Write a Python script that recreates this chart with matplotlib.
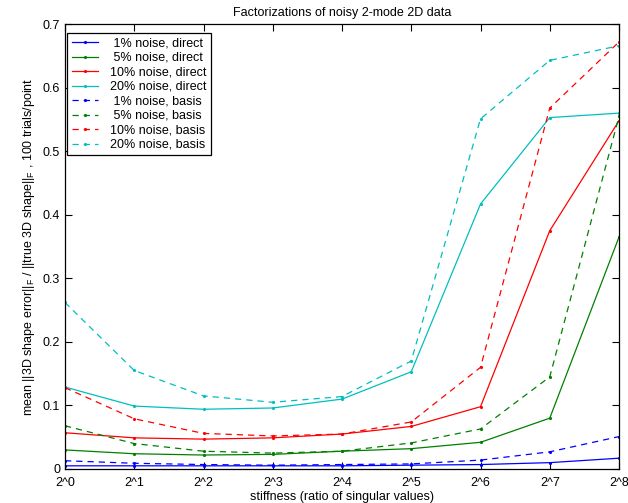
import numpy as np
import matplotlib.pyplot as plt

plt.rcParams['font.family'] = ['Liberation Sans', 'DejaVu Sans']
plt.rcParams['mathtext.fontset'] = 'custom'
plt.rcParams['mathtext.rm'] = 'Liberation Sans'

# stiffness exponents 2^0 .. 2^8
exps = np.arange(9)
tick_labels = [f'2^{k}' for k in exps]

# direct factorization
direct_1 = [0.005, 0.005, 0.005, 0.005, 0.005, 0.006, 0.007, 0.010, 0.017]
direct_5 = [0.030, 0.024, 0.022, 0.023, 0.028, 0.032, 0.042, 0.080, 0.365]
direct_10 = [0.057, 0.049, 0.047, 0.049, 0.055, 0.067, 0.098, 0.375, 0.548]
direct_20 = [0.129, 0.099, 0.094, 0.096, 0.110, 0.153, 0.417, 0.553, 0.560]

# basis factorization
basis_1 = [0.013, 0.009, 0.007, 0.006, 0.007, 0.008, 0.014, 0.027, 0.051]
basis_5 = [0.068, 0.040, 0.028, 0.025, 0.028, 0.041, 0.063, 0.145, 0.555]
basis_10 = [0.128, 0.079, 0.056, 0.052, 0.055, 0.074, 0.160, 0.568, 0.672]
basis_20 = [0.262, 0.155, 0.115, 0.105, 0.114, 0.170, 0.551, 0.643, 0.666]

noise = [' 1%', ' 5%', '10%', '20%']
colors = ['#0000ff', '#008000', '#ff0000', '#00bfbf']
direct = [direct_1, direct_5, direct_10, direct_20]
basis = [basis_1, basis_5, basis_10, basis_20]

fig = plt.figure(figsize=(6.28, 5.03), dpi=100)
ax = fig.add_axes([0.1035, 0.0676, 0.8822, 0.8844])

for n, c, d in zip(noise, colors, direct):
    ax.plot(exps, d, '-', marker='.', ms=2.5, color=c, lw=0.9, label=f'{n} noise, direct')
for n, c, b in zip(noise, colors, basis):
    ax.plot(exps, b, '--', marker='.', ms=2.5, color=c, lw=0.9, dashes=(5, 4),
            label=f'{n} noise, basis')

ax.set_xlim(0, 8)
ax.set_ylim(0, 0.7)
ax.set_xticks(exps)
ax.set_xticklabels(tick_labels)
ax.set_yticks(np.arange(0, 0.71, 0.1))
ax.set_yticklabels(['0', '0.1', '0.2', '0.3', '0.4', '0.5', '0.6', '0.7'])
ax.tick_params(direction='in', top=True, right=True, labelsize=9, length=5, width=0.8)
ax.tick_params(axis='x', pad=6)
for s in ax.spines.values():
    s.set_linewidth(0.9)

ax.set_xlabel('stiffness (ratio of singular values)', fontsize=9, labelpad=1)
ax.set_ylabel(r'mean ||3D shape error||$_\mathrm{F}$ / ||true 3D shape||$_\mathrm{F}$ , 100 trials/point',
              fontsize=9, labelpad=4)
ax.set_title('Factorizations of noisy 2-mode 2D data', fontsize=9, pad=6)

leg = ax.legend(loc='upper left', bbox_to_anchor=(0.004, 0.98), fontsize=9, frameon=True,
                fancybox=False, edgecolor='black', framealpha=1, handlelength=2.1,
                borderpad=0.35, labelspacing=0.2, handletextpad=1.0, borderaxespad=0.0)
leg.get_frame().set_linewidth(0.9)

plt.savefig('out.png', dpi=100)
